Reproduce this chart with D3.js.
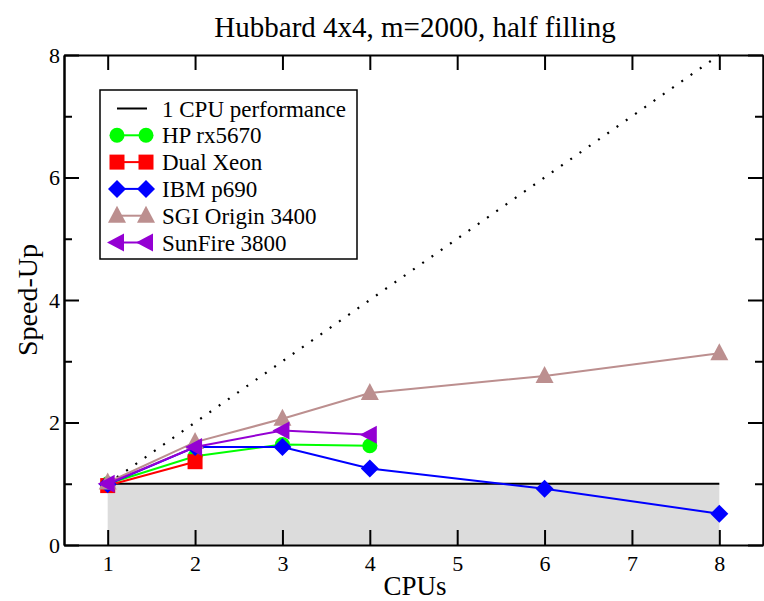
<!DOCTYPE html>
<html>
<head>
<meta charset="utf-8">
<script src="https://d3js.org/d3.v7.min.js"></script>
<style>
  body { margin: 0; background: #fff; }
  text { font-family: "Liberation Serif", "Times New Roman", serif; }
</style>
</head>
<body>
<svg width="764" height="601"></svg>
<script>
  // data
  var xTicks = [1, 2, 3, 4, 5, 6, 7, 8];
  var yMajor = [0, 2, 4, 6, 8];
  var yMinor = [1, 3, 5, 7];

  var hpX = [1, 2, 3, 4],          hpY = [1.0, 1.45, 1.64, 1.62];
  var xeonX = [1, 2],              xeonY = [0.97, 1.36];
  var ibmX = [1, 2, 3, 4, 6, 8],   ibmY = [0.99, 1.6, 1.6, 1.25, 0.92, 0.51];
  var sgiX = [1, 2, 3, 4, 6, 8],   sgiY = [1.02, 1.68, 2.06, 2.48, 2.76, 3.13];
  var sunX = [1, 2, 3, 4],         sunY = [1.0, 1.6, 1.87, 1.8];

  var baseX = [1, 8], baseY = [1, 1];     // 1 CPU performance
  var idealX = [1, 8], idealY = [1, 8];   // linear speed-up (dotted)

  var names = ["HP rx5670", "Dual Xeon", "IBM p690", "SGI Origin 3400", "SunFire 3800"];
  var colors = ["#00ff00", "#ff0000", "#0000ff", "#bc8f8f", "#9400d3"];
  var shapes = ["circle", "square", "diamond", "triUp", "triLeft"];

  var series = [
    {x: hpX, y: hpY}, {x: xeonX, y: xeonY}, {x: ibmX, y: ibmY},
    {x: sgiX, y: sgiY}, {x: sunX, y: sunY}
  ];

  var svg = d3.select("svg");
  var pLeft = 64, pTop = 55, pRight = 763, pBottom = 545;

  var x = d3.scaleLinear().domain([0.5, 8.5]).range([pLeft, pRight]);
  var y = d3.scaleLinear().domain([0, 8]).range([pBottom, pTop]);

  // marker path around 0,0
  function marker(s) {
    if (s == "circle") return "M7.5,0A7.5,7.5 0 1,1 -7.5,0A7.5,7.5 0 1,1 7.5,0Z";
    if (s == "square") return "M-7.5,-7.5H7.5V7.5H-7.5Z";
    if (s == "diamond") return "M0,-9L9,0L0,9L-9,0Z";
    if (s == "triUp") return "M0,-10L9,7L-9,7Z";
    if (s == "triLeft") return "M-10,0L7,-9L7,9Z";
  }

  // grey area under 1 CPU performance
  svg.append("path")
    .datum(d3.range(baseX.length))
    .attr("fill", "#dcdcdc")
    .attr("d", d3.area()
      .x(function(i) { return x(baseX[i]); })
      .y0(y(0))
      .y1(function(i) { return y(baseY[i]); }));

  var line = function(xs, ys) {
    return d3.line()
      .x(function(i) { return x(xs[i]); })
      .y(function(i) { return y(ys[i]); })(d3.range(xs.length));
  };

  svg.append("path")
    .attr("d", line(baseX, baseY))
    .attr("fill", "none").attr("stroke", "#000").attr("stroke-width", 2);

  svg.append("path")
    .attr("d", line(idealX, idealY))
    .attr("fill", "none").attr("stroke", "#000").attr("stroke-width", 2.2)
    .attr("stroke-dasharray", "2,9.3");

  series.forEach(function(s, k) {
    var g = svg.append("g");
    g.append("path")
      .attr("d", line(s.x, s.y))
      .attr("fill", "none").attr("stroke", colors[k]).attr("stroke-width", 2);
    g.selectAll("path.m")
      .data(d3.range(s.x.length)).enter().append("path")
      .attr("class", "m")
      .attr("transform", function(i) { return "translate(" + x(s.x[i]) + "," + y(s.y[i]) + ")"; })
      .attr("d", marker(shapes[k]))
      .attr("fill", colors[k]);
  });

  // axes (ticks point inward)
  function style(g) {
    g.attr("font-size", 22).attr("font-family", "Liberation Serif, Times New Roman, serif");
    g.selectAll("path.domain").attr("stroke", "#000").attr("stroke-width", 2);
    g.selectAll(".tick line").attr("stroke", "#000").attr("stroke-width", 2);
    g.selectAll("text").attr("fill", "#000");
  }

  svg.append("g").attr("transform", "translate(0," + pBottom + ")")
    .call(d3.axisBottom(x).tickValues(xTicks).tickSize(-15).tickSizeOuter(0).tickPadding(10))
    .call(style);
  svg.append("g").attr("transform", "translate(0," + pTop + ")")
    .call(d3.axisTop(x).tickValues(xTicks).tickSize(-15).tickSizeOuter(0).tickFormat(""))
    .call(style);
  svg.append("g").attr("transform", "translate(" + pLeft + ",0)")
    .call(d3.axisLeft(y).tickValues(yMajor).tickSize(-15).tickSizeOuter(0).tickPadding(4))
    .call(style);
  svg.append("g").attr("transform", "translate(" + pLeft + ",0)")
    .call(d3.axisLeft(y).tickValues(yMinor).tickSize(-8).tickSizeOuter(0).tickFormat(""))
    .call(style);
  svg.append("g").attr("transform", "translate(" + pRight + ",0)")
    .call(d3.axisRight(y).tickValues(yMajor).tickSize(-15).tickSizeOuter(0).tickFormat(""))
    .call(style);
  svg.append("g").attr("transform", "translate(" + pRight + ",0)")
    .call(d3.axisRight(y).tickValues(yMinor).tickSize(-8).tickSizeOuter(0).tickFormat(""))
    .call(style);

  // titles
  svg.append("text")
    .attr("x", 415).attr("y", 37)
    .attr("text-anchor", "middle").attr("font-size", 29)
    .text("Hubbard 4x4, m=2000, half filling");
  svg.append("text")
    .attr("x", 415).attr("y", 595)
    .attr("text-anchor", "middle").attr("font-size", 27)
    .text("CPUs");
  svg.append("text")
    .attr("transform", "translate(37,300) rotate(-90)")
    .attr("text-anchor", "middle").attr("font-size", 28)
    .text("Speed-Up");

  // legend
  var lg = svg.append("g");
  lg.append("rect")
    .attr("x", 100).attr("y", 90).attr("width", 257).attr("height", 169)
    .attr("fill", "#fff").attr("stroke", "#000").attr("stroke-width", 1.5);

  var rowY = function(i) { return 108.5 + i * 26.8; };
  lg.append("line")
    .attr("x1", 117).attr("x2", 147).attr("y1", rowY(0)).attr("y2", rowY(0))
    .attr("stroke", "#000").attr("stroke-width", 2);
  lg.append("text").attr("x", 162).attr("y", rowY(0)).attr("dy", "0.35em")
    .attr("font-size", 23).text("1 CPU performance");

  names.forEach(function(n, k) {
    var yy = rowY(k + 1);
    lg.append("line")
      .attr("x1", 117).attr("x2", 146).attr("y1", yy).attr("y2", yy)
      .attr("stroke", colors[k]).attr("stroke-width", 2);
    [117, 146].forEach(function(xx) {
      lg.append("path")
        .attr("transform", "translate(" + xx + "," + yy + ")")
        .attr("d", marker(shapes[k]))
        .attr("fill", colors[k]);
    });
    lg.append("text").attr("x", 162).attr("y", yy).attr("dy", "0.35em")
      .attr("font-size", 23).text(n);
  });
</script>
</body>
</html>
